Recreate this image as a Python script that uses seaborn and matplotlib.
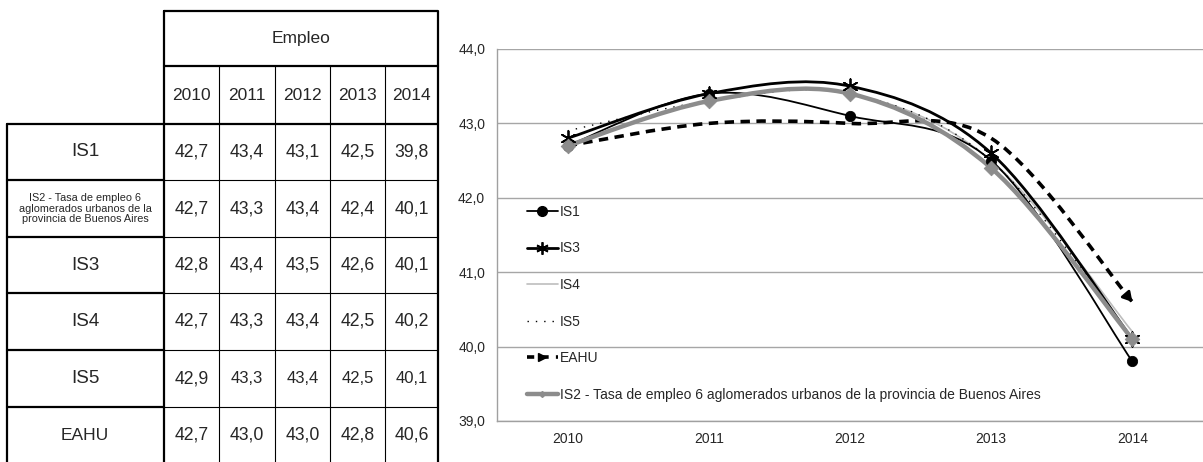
import numpy as np
import pandas as pd
import matplotlib
matplotlib.use("Agg")
import matplotlib.pyplot as plt
import seaborn as sns
from matplotlib.path import Path
from matplotlib.patches import PathPatch
from matplotlib.lines import Line2D
from matplotlib.ticker import FuncFormatter, FixedLocator

years = ["2010", "2011", "2012", "2013", "2014"]
is1 = [42.7, 43.4, 43.1, 42.5, 39.8]
is2 = [42.7, 43.3, 43.4, 42.4, 40.1]
is3 = [42.8, 43.4, 43.5, 42.6, 40.1]
is4 = [42.7, 43.3, 43.4, 42.5, 40.2]
is5 = [42.9, 43.3, 43.4, 42.5, 40.1]
eahu = [42.7, 43.0, 43.0, 42.8, 40.6]
is2_long = "IS2 - Tasa de empleo 6 aglomerados urbanos de la provincia de Buenos Aires"
is2_short = "IS2 - Tasa de empleo 6\naglomerados urbanos de la\nprovincia de Buenos Aires"

sns.set_style("white")
plt.rcParams['font.family'] = ['Liberation Sans', 'DejaVu Sans']

W, H = 1203, 462
fig = plt.figure(figsize=(W / 100, H / 100), dpi=100)


def fmt(v):
    return f"{v:.1f}".replace(".", ",")


# ---------------- table (pixel coordinates) ----------------
axt = fig.add_axes([0, 0, 440 / W, 1])
axt.set_xlim(0, 440)
axt.set_ylim(H, 0)
axt.axis("off")

cols = [164, 219, 275, 330, 385, 438]
rows = [124, 180, 237, 293, 350, 407, 463]
thick, thin = 1.6, 0.8

# header
axt.plot([164, 438, 438, 164, 164], [11, 11, 66, 66, 11], color="black", lw=thick)
axt.text(301, 39, "Empleo", ha="center", va="center", fontsize=12.5)
for c in cols[1:-1]:
    axt.plot([c, c], [66, rows[-1]], color="black", lw=thin)
axt.plot([164, 164], [66, rows[-1]], color="black", lw=thick)
axt.plot([438, 438], [66, rows[-1]], color="black", lw=thick)
axt.plot([7, 7], [124, rows[-1]], color="black", lw=thick)
for i, y in enumerate(years):
    axt.text((cols[i] + cols[i + 1]) / 2, 96, y, ha="center", va="center", fontsize=12.5)

table_rows = [("IS1", is1), (is2_short, is2), ("IS3", is3),
              ("IS4", is4), ("IS5", is5), ("EAHU", eahu)]
for r, (name, vals) in enumerate(table_rows):
    y0, y1 = rows[r], rows[r + 1]
    axt.plot([7, 164], [y0, y0], color="black", lw=thick)
    axt.plot([164, 438], [y0, y0], color="black", lw=thick if r == 0 else thin)
    ym = (y0 + y1) / 2
    if r == 1:
        axt.text(85, ym, name, ha="center", va="center", fontsize=7.8, linespacing=1.1)
    else:
        axt.text(85, ym, name, ha="center", va="center", fontsize=12.5 if name == "EAHU" else 13.5)
    for i, v in enumerate(vals):
        fs = 12 if (name == "IS5" and i > 0) else 12.7
        axt.text((cols[i] + cols[i + 1]) / 2, ym, fmt(v), ha="center", va="center", fontsize=fs)

# ---------------- chart ----------------
left, right, top, bottom = 497, 1203, 49, 421
ax = fig.add_axes([left / W, (H - bottom) / H, (right - left) / W, (bottom - top) / H])
ax.set_xlim(-0.5, 4.5)
ax.set_ylim(39, 44)

x = np.arange(len(years))


def smooth_path(vals):
    # Excel-like smoothed line: cubic bezier segments through the points
    pts = np.column_stack([x, vals]).astype(float)
    p = np.vstack([pts[0], pts, pts[-1]])
    verts = [tuple(pts[0])]
    codes = [Path.MOVETO]
    for i in range(1, len(p) - 2):
        c1 = p[i] + (p[i + 1] - p[i - 1]) / 6
        c2 = p[i + 1] - (p[i + 2] - p[i]) / 6
        verts += [tuple(c1), tuple(c2), tuple(p[i + 1])]
        codes += [Path.CURVE4] * 3
    return Path(verts, codes), verts


styles = {
    "IS4": dict(color="#bdbdbd", lw=1.2, ls="-"),
    "IS5": dict(color="black", lw=1.0, ls=(0, (1, 5))),
    "IS1": dict(color="black", lw=1.3, ls="-"),
    "IS3": dict(color="black", lw=2.0, ls="-"),
    "EAHU": dict(color="black", lw=2.6, ls=(0, (2.6, 1.8))),
    "IS2": dict(color="#8c8c8c", lw=3.2, ls="-"),
}
series = {"IS4": is4, "IS5": is5, "IS1": is1, "IS3": is3, "EAHU": eahu, "IS2": is2}

for name, vals in series.items():
    st = styles[name]
    path, verts = smooth_path(vals)
    patch = PathPatch(path, facecolor="none", edgecolor=st["color"], lw=st["lw"],
                      linestyle=st["ls"], capstyle="butt", zorder=3)
    ax.add_patch(patch)
    if name == "EAHU":
        end = np.array(verts[-1])
        c2 = np.array(verts[-2])
        start = end - 0.08 * (end - c2)
        ax.annotate("", xy=tuple(end), xytext=tuple(start),
                    arrowprops=dict(arrowstyle="-|>,head_length=0.55,head_width=0.32",
                                    color="black", lw=2.0, shrinkA=0, shrinkB=0),
                    zorder=4)

df = pd.DataFrame({"year": x, "IS1": is1, "IS3": is3, "IS2": is2})
sns.scatterplot(data=df, x="year", y="IS1", ax=ax, marker="o", s=55, color="black",
                edgecolor="black", zorder=5)
sns.scatterplot(data=df, x="year", y="IS3", ax=ax, marker=(6, 2, 0), s=110,
                color="black", linewidth=1.3, zorder=5)
sns.scatterplot(data=df, x="year", y="IS2", ax=ax, marker="D", s=55, color="#8c8c8c",
                edgecolor="#8c8c8c", zorder=6)
ax.set_xlabel("")
ax.set_ylabel("")

ax.yaxis.set_major_locator(FixedLocator([39, 40, 41, 42, 43, 44]))
ax.yaxis.set_major_formatter(FuncFormatter(lambda v, p: fmt(v)))
ax.set_xticks(x)
ax.set_xticklabels(years)
ax.set_xticks([0.5, 1.5, 2.5, 3.5], minor=True)
ax.tick_params(axis="x", which="major", length=0, labelsize=10, pad=8)
ax.tick_params(axis="x", which="minor", length=4, color="#a0a0a0", direction="out")
ax.tick_params(axis="y", length=0, labelsize=10, pad=8.5)
ax.grid(axis="y", color="#a6a6a6", lw=1.0)
ax.set_axisbelow(True)
for s in ["top", "right"]:
    ax.spines[s].set_visible(False)
for s in ["left", "bottom"]:
    ax.spines[s].set_color("#a0a0a0")
    ax.spines[s].set_linewidth(1.0)

handles = [
    Line2D([], [], color="black", lw=1.3, marker="o", ms=7),
    Line2D([], [], color="black", lw=2.0, marker=(6, 2, 0), ms=9, mew=1.3),
    Line2D([], [], color="#bdbdbd", lw=1.2),
    Line2D([], [], color="black", lw=1.0, ls=(0, (1, 5))),
    Line2D([], [], color="black", lw=2.6, ls=(0, (2, 2)), marker=">", ms=6, markevery=[1]),
    Line2D([], [], color="#8c8c8c", lw=3.2, marker="D", ms=3),
]
labels = ["IS1", "IS3", "IS4", "IS5", "EAHU", is2_long]
ax.legend(handles, labels, loc="upper left", bbox_to_anchor=(527 / W, (H - 205) / H),
          bbox_transform=fig.transFigure, frameon=False, fontsize=10,
          handlelength=2.2, handletextpad=0.15, labelspacing=1.62, borderpad=0,
          borderaxespad=0)

fig.savefig("out.png", dpi=100)
